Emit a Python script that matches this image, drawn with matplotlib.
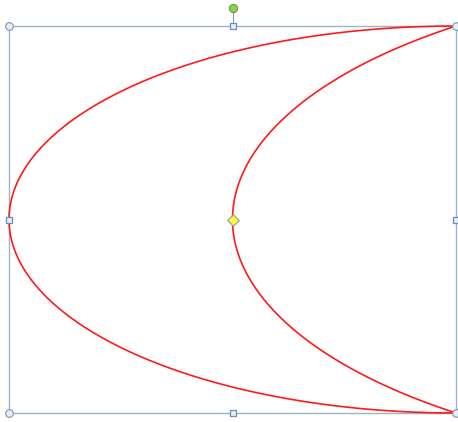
import numpy as np
import matplotlib
matplotlib.use("Agg")
import matplotlib.pyplot as plt

# Shape frame (pixel space of the slide) and moon adjustment
frame_left, frame_right = 9.0, 456.0
frame_top, frame_bottom = 26.0, 413.0
moon_adj = 0.5          # PowerPoint "moon" adj (50000)
rot_handle_y = 8.0

W, H = 458, 422
fig = plt.figure(figsize=(W / 100, H / 100), dpi=100)
ax = fig.add_axes([0, 0, 1, 1])
ax.set_xlim(0, W)
ax.set_ylim(H, 0)
ax.axis("off")

w = frame_right - frame_left
h = frame_bottom - frame_top
ss = min(w, h)
vc = (frame_top + frame_bottom) / 2
hd2 = h / 2

# outer arc: half ellipse centered at right-middle
t = np.linspace(np.pi / 2, 3 * np.pi / 2, 400)
ox = frame_right + w * np.cos(t)
oy = vc + hd2 * np.sin(t)

# inner arc per OOXML moon geometry
g0 = ss * moon_adj
g0w = g0 * w / ss
g1 = ss - g0
g2 = g0 * g0 / g1
g3 = ss * ss / g1
g5 = 2 * g3 - g2
g7 = g5 / 2
g8 = g7 - g0
rx_in = g8 * w / ss
ry_in = g8 * hd2 / ss
cx_in = frame_left + g0w + rx_in
th = np.arcsin(hd2 / ry_in)
tt = np.linspace(-th, th, 400)
ix = cx_in - rx_in * np.cos(tt)
iy = vc + ry_in * np.sin(tt)

box_col = "#9DB3C9"
ax.plot([frame_left, frame_right, frame_right, frame_left, frame_left],
        [frame_top, frame_top, frame_bottom, frame_bottom, frame_top],
        color=box_col, lw=1.0, zorder=1)
ax.plot([(frame_left + frame_right) / 2] * 2, [rot_handle_y, frame_top],
        color="#8A9AAA", lw=0.8, zorder=1)

ax.plot(ox, oy, color="#FF1A1A", lw=1.2, zorder=2, solid_capstyle="round")
ax.plot(ix, iy, color="#FF1A1A", lw=1.2, zorder=2, solid_capstyle="round")

# corner handles (circles)
cxs = [frame_left, frame_right, frame_left, frame_right]
cys = [frame_top, frame_top, frame_bottom, frame_bottom]
ax.scatter(cxs, cys, s=30, marker="o", facecolor="#E2F0F8",
           edgecolor="#8C9CAC", linewidths=0.9, zorder=5)
# midpoint handles (squares)
mx = [(frame_left + frame_right) / 2, (frame_left + frame_right) / 2, frame_left, frame_right]
my = [frame_top, frame_bottom, vc, vc]
ax.scatter(mx, my, s=22, marker="s", facecolor="#E2EEF8",
           edgecolor="#6F8FB5", linewidths=0.9, zorder=5)
# rotation handle
ax.scatter([(frame_left + frame_right) / 2], [rot_handle_y], s=34, marker="o",
           facecolor="#92D050", edgecolor="#6FA040", linewidths=0.9, zorder=5)
# adjust handle (yellow diamond)
ax.scatter([frame_left + g0w], [vc], s=34, marker="D", facecolor="#FFFF3A",
           edgecolor="#A0A0A0", linewidths=0.9, zorder=5)

fig.savefig("out.png", dpi=100)
